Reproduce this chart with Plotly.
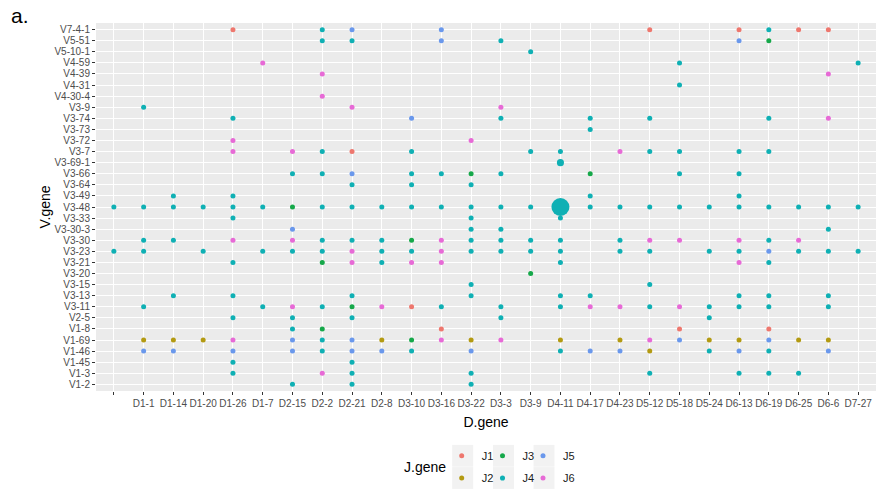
import math
import plotly.graph_objects as go

# Axis categories (ggplot-style discrete order)
D_GENES = [" ", "D1-1", "D1-14", "D1-20", "D1-26", "D1-7", "D2-15", "D2-2", "D2-21", "D2-8",
           "D3-10", "D3-16", "D3-22", "D3-3", "D3-9", "D4-11", "D4-17", "D4-23", "D5-12",
           "D5-18", "D5-24", "D6-13", "D6-19", "D6-25", "D6-6", "D7-27"]
V_GENES = ["V1-2", "V1-3", "V1-45", "V1-46", "V1-69", "V1-8", "V2-5", "V3-11", "V3-13",
           "V3-15", "V3-20", "V3-21", "V3-23", "V3-30", "V3-30-3", "V3-33", "V3-48", "V3-49",
           "V3-64", "V3-66", "V3-69-1", "V3-7", "V3-72", "V3-73", "V3-74", "V3-9", "V4-30-4",
           "V4-31", "V4-39", "V4-59", "V5-10-1", "V5-51", "V7-4-1"]

# (V gene, D gene) combinations observed for each J gene
J1_PAIRS = [("V7-4-1", "D1-26"), ("V7-4-1", "D5-12"), ("V7-4-1", "D6-13"), ("V7-4-1", "D6-25"),
            ("V7-4-1", "D6-6"), ("V3-7", "D2-21"), ("V3-11", "D3-10"), ("V1-8", "D3-16"),
            ("V1-8", "D5-18"), ("V1-8", "D6-19")]

J2_PAIRS = [("V1-69", "D1-1"), ("V1-69", "D1-14"), ("V1-69", "D1-20"), ("V1-69", "D2-8"),
            ("V1-69", "D3-22"), ("V1-69", "D4-11"), ("V1-69", "D4-23"), ("V1-69", "D5-24"),
            ("V1-69", "D6-13"), ("V1-69", "D6-25"), ("V1-69", "D6-6"), ("V1-46", "D5-12")]

J3_PAIRS = [("V5-51", "D6-19"), ("V3-66", "D3-22"), ("V3-66", "D4-17"), ("V3-48", "D2-15"),
            ("V3-30", "D3-10"), ("V3-21", "D2-2"), ("V3-20", "D3-9"), ("V3-11", "D2-21"),
            ("V1-8", "D2-2"), ("V1-69", "D3-10")]

J4_PAIRS = [
    ("V7-4-1", "D2-2"), ("V7-4-1", "D6-19"),
    ("V5-51", "D2-2"), ("V5-51", "D2-21"), ("V5-51", "D3-3"),
    ("V5-10-1", "D3-9"),
    ("V4-59", "D5-18"), ("V4-59", "D7-27"),
    ("V4-31", "D5-18"),
    ("V3-9", "D1-1"),
    ("V3-74", "D1-26"), ("V3-74", "D3-3"), ("V3-74", "D4-17"), ("V3-74", "D5-12"), ("V3-74", "D6-19"),
    ("V3-73", "D4-17"),
    ("V3-7", "D2-2"), ("V3-7", "D3-10"), ("V3-7", "D3-9"), ("V3-7", "D4-11"), ("V3-7", "D5-12"),
    ("V3-7", "D5-18"), ("V3-7", "D6-13"), ("V3-7", "D6-19"),
    ("V3-69-1", "D4-11"),
    ("V3-66", "D2-15"), ("V3-66", "D2-2"), ("V3-66", "D3-10"), ("V3-66", "D3-16"), ("V3-66", "D3-3"),
    ("V3-66", "D5-18"), ("V3-66", "D6-13"),
    ("V3-64", "D2-21"), ("V3-64", "D3-10"), ("V3-64", "D3-22"),
    ("V3-49", "D1-14"), ("V3-49", "D1-26"), ("V3-49", "D4-17"), ("V3-49", "D6-13"),
    ("V3-48", " "), ("V3-48", "D1-1"), ("V3-48", "D1-14"), ("V3-48", "D1-20"), ("V3-48", "D1-26"),
    ("V3-48", "D1-7"), ("V3-48", "D2-2"), ("V3-48", "D2-21"), ("V3-48", "D2-8"), ("V3-48", "D3-10"),
    ("V3-48", "D3-16"), ("V3-48", "D3-22"), ("V3-48", "D3-3"), ("V3-48", "D3-9"), ("V3-48", "D4-17"),
    ("V3-48", "D4-23"), ("V3-48", "D5-12"), ("V3-48", "D5-18"), ("V3-48", "D5-24"), ("V3-48", "D6-13"),
    ("V3-48", "D6-19"), ("V3-48", "D6-25"), ("V3-48", "D6-6"), ("V3-48", "D7-27"),
    ("V3-33", "D1-26"), ("V3-33", "D3-22"), ("V3-33", "D4-11"),
    ("V3-30-3", "D3-22"), ("V3-30-3", "D3-3"), ("V3-30-3", "D6-6"),
    ("V3-30", "D1-1"), ("V3-30", "D1-14"), ("V3-30", "D2-2"), ("V3-30", "D2-21"), ("V3-30", "D2-8"),
    ("V3-30", "D3-22"), ("V3-30", "D3-3"), ("V3-30", "D3-9"), ("V3-30", "D4-11"), ("V3-30", "D4-23"),
    ("V3-30", "D6-19"),
    ("V3-23", " "), ("V3-23", "D1-1"), ("V3-23", "D1-20"), ("V3-23", "D1-7"), ("V3-23", "D2-15"),
    ("V3-23", "D2-2"), ("V3-23", "D2-8"), ("V3-23", "D3-10"), ("V3-23", "D3-22"), ("V3-23", "D3-3"),
    ("V3-23", "D3-9"), ("V3-23", "D4-11"), ("V3-23", "D4-23"), ("V3-23", "D5-12"), ("V3-23", "D5-24"),
    ("V3-23", "D6-13"), ("V3-23", "D6-25"), ("V3-23", "D6-6"), ("V3-23", "D7-27"),
    ("V3-21", "D1-26"), ("V3-21", "D2-8"), ("V3-21", "D4-11"), ("V3-21", "D6-19"),
    ("V3-15", "D3-22"), ("V3-15", "D5-12"),
    ("V3-13", "D1-14"), ("V3-13", "D1-26"), ("V3-13", "D2-21"), ("V3-13", "D3-22"), ("V3-13", "D4-11"),
    ("V3-13", "D4-17"), ("V3-13", "D6-13"), ("V3-13", "D6-19"), ("V3-13", "D6-6"),
    ("V3-11", "D1-1"), ("V3-11", "D1-7"), ("V3-11", "D2-2"), ("V3-11", "D3-16"), ("V3-11", "D3-3"),
    ("V3-11", "D4-11"), ("V3-11", "D5-12"), ("V3-11", "D5-24"), ("V3-11", "D6-13"), ("V3-11", "D6-19"),
    ("V3-11", "D6-6"),
    ("V2-5", "D1-26"), ("V2-5", "D2-15"), ("V2-5", "D2-21"), ("V2-5", "D3-3"), ("V2-5", "D5-24"),
    ("V1-8", "D2-15"),
    ("V1-69", "D2-2"),
    ("V1-46", "D2-2"), ("V1-46", "D3-10"), ("V1-46", "D4-11"), ("V1-46", "D5-24"), ("V1-46", "D6-19"),
    ("V1-45", "D1-26"), ("V1-45", "D2-21"),
    ("V1-3", "D1-26"), ("V1-3", "D2-21"), ("V1-3", "D3-22"), ("V1-3", "D5-12"), ("V1-3", "D6-13"),
    ("V1-3", "D6-19"), ("V1-3", "D6-25"),
    ("V1-2", "D2-15"), ("V1-2", "D2-21"), ("V1-2", "D3-22"),
    ("V3-48", "D4-11"),
]

J5_PAIRS = [("V7-4-1", "D2-21"), ("V7-4-1", "D3-16"), ("V5-51", "D3-16"), ("V5-51", "D6-13"),
            ("V3-74", "D3-10"), ("V3-66", "D2-21"), ("V3-30-3", "D2-15"), ("V3-23", "D6-19"),
            ("V1-69", "D2-15"), ("V1-69", "D2-21"), ("V1-69", "D5-18"), ("V1-69", "D6-19"),
            ("V1-46", "D1-1"), ("V1-46", "D1-14"), ("V1-46", "D1-26"), ("V1-46", "D2-15"),
            ("V1-46", "D2-21"), ("V1-46", "D2-8"), ("V1-46", "D3-22"), ("V1-46", "D4-17"),
            ("V1-46", "D4-23"), ("V1-46", "D6-13"), ("V1-46", "D6-6")]

J6_PAIRS = [("V4-59", "D1-7"), ("V4-39", "D2-2"), ("V4-39", "D6-6"), ("V4-30-4", "D2-2"),
            ("V3-9", "D2-21"), ("V3-9", "D3-3"), ("V3-74", "D6-6"), ("V3-72", "D1-26"),
            ("V3-72", "D3-22"), ("V3-7", "D1-26"), ("V3-7", "D2-15"), ("V3-7", "D4-23"),
            ("V3-30", "D1-26"), ("V3-30", "D2-15"), ("V3-30", "D3-16"), ("V3-30", "D5-12"),
            ("V3-30", "D5-18"), ("V3-30", "D6-13"), ("V3-30", "D6-25"),
            ("V3-23", "D2-21"), ("V3-23", "D3-16"),
            ("V3-21", "D2-21"), ("V3-21", "D3-10"), ("V3-21", "D3-16"), ("V3-21", "D6-13"),
            ("V3-11", "D2-15"), ("V3-11", "D2-8"), ("V3-11", "D4-17"), ("V3-11", "D4-23"),
            ("V3-11", "D5-18"),
            ("V1-69", "D1-26"), ("V1-69", "D3-16"), ("V1-69", "D3-3"), ("V1-69", "D5-12"),
            ("V1-3", "D2-2")]

# Clone counts above one (all other combinations occur once)
COUNTS = {("J4", "V3-48", "D4-11"): 13, ("J4", "V3-69-1", "D4-11"): 2}

J_GENES = ["J1", "J2", "J3", "J4", "J5", "J6"]
J_PAIRS = [J1_PAIRS, J2_PAIRS, J3_PAIRS, J4_PAIRS, J5_PAIRS, J6_PAIRS]
J_COLORS = ["#EE776E", "#B39A12", "#16A84A", "#0FB0B4", "#6A98EC", "#E76AD6"]

BASE_SIZE = 5.0

# plot-area geometry in pixels
W, H = 876, 493
ML, MR, MT, MB = 96, 0, 23, 99
PW, PH = W - ML - MR, H - MT - MB


def px_x(px):
    return (px - ML) / PW


def px_y(py):
    return (H - MB - py) / PH


FONT = "Liberation Sans, Arial, sans-serif"

fig = go.Figure()

# legend slots: column-major, two rows
legend_cols = [462.7, 503.5, 544.0]
legend_rows = [459.3, 481.7]
legend_layout = {}
shapes = []

for k, (j, pairs, col) in enumerate(zip(J_GENES, J_PAIRS, J_COLORS)):
    vs = [p[0] for p in pairs]
    ds = [p[1] for p in pairs]
    sizes = [BASE_SIZE * math.sqrt(COUNTS.get((j, v, d), 1)) for v, d in pairs]
    lname = "legend" if k == 0 else f"legend{k + 1}"
    fig.add_trace(go.Scatter(
        x=ds, y=vs, mode="markers", name=j,
        marker=dict(color=col, size=sizes, line=dict(width=0), opacity=1),
        legend=lname,
    ))
    cx = legend_cols[k // 2]
    cy = legend_rows[k % 2]
    legend_layout[lname] = dict(
        x=px_x(cx - 21), y=px_y(cy), xanchor="left", yanchor="middle",
        bgcolor="rgba(0,0,0,0)", borderwidth=0,
        font=dict(family=FONT, size=11, color="#1A1A1A"),
        itemclick=False, itemdoubleclick=False,
    )
    shapes.append(dict(
        type="rect", xref="paper", yref="paper", layer="below",
        x0=px_x(cx - 10.5), x1=px_x(cx + 10.5), y0=px_y(cy + 11), y1=px_y(cy - 11),
        fillcolor="#F2F2F2", line=dict(width=0),
    ))

axis_common = dict(
    type="category", categoryorder="array", tickmode="array",
    showgrid=True, gridcolor="white", gridwidth=1.3,
    zeroline=False, showline=False,
    ticks="outside", ticklen=3, tickwidth=1, tickcolor="#333333",
    tickfont=dict(family=FONT, size=10, color="#4D4D4D"),
    fixedrange=True,
)

fig.update_layout(
    width=W, height=H,
    margin=dict(l=ML, r=MR, t=MT, b=MB, pad=0),
    paper_bgcolor="white", plot_bgcolor="#EBEBEB",
    font=dict(family=FONT, color="black"),
    xaxis=dict(axis_common, categoryarray=D_GENES, tickvals=D_GENES, ticktext=D_GENES,
               range=[-0.6, len(D_GENES) - 0.4], tickangle=0,
               title=dict(text="D.gene", font=dict(family=FONT, size=14, color="black"), standoff=9)),
    yaxis=dict(axis_common, categoryarray=V_GENES, tickvals=V_GENES, ticktext=V_GENES,
               range=[-0.6, len(V_GENES) - 0.4],
               title=dict(text="V.gene", font=dict(family=FONT, size=14, color="black"), standoff=0)),
    shapes=shapes,
    annotations=[
        dict(text="J.gene", xref="paper", yref="paper", x=px_x(425), y=px_y(470.5),
             xanchor="center", yanchor="middle", showarrow=False,
             font=dict(family=FONT, size=14, color="black")),
        dict(text="a.", xref="paper", yref="paper", x=px_x(9), y=px_y(2),
             xanchor="left", yanchor="top", showarrow=False,
             font=dict(family=FONT, size=21, color="black")),
    ],
    showlegend=True,
    **legend_layout,
)

fig.write_html("out.html")
